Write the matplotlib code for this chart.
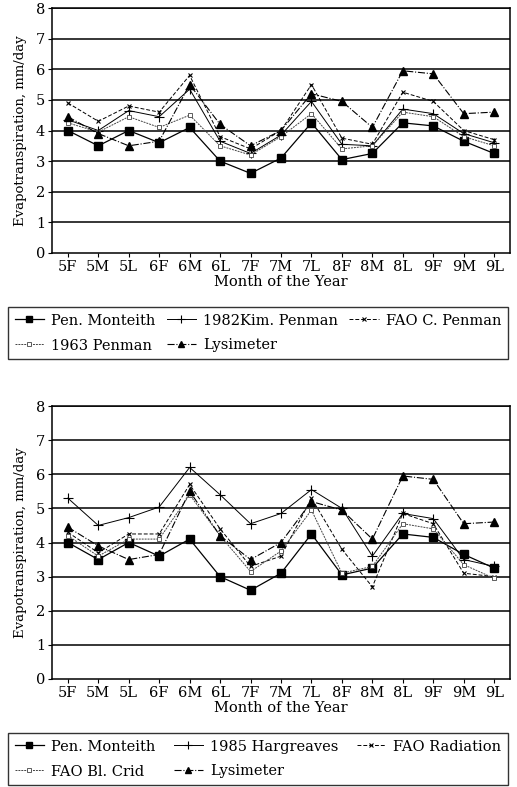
import matplotlib
matplotlib.use("Agg")
import matplotlib.pyplot as plt
from matplotlib.lines import Line2D

plt.rcParams["font.family"] = ["DejaVu Serif"]

months = ["5F", "5M", "5L", "6F", "6M", "6L", "7F", "7M", "7L",
          "8F", "8M", "8L", "9F", "9M", "9L"]

# top chart
pen_monteith = [4.0, 3.5, 4.0, 3.6, 4.1, 3.0, 2.6, 3.1, 4.25, 3.05, 3.25, 4.25, 4.15, 3.65, 3.25]
kim_penman_82 = [4.35, 4.0, 4.65, 4.45, 5.35, 3.65, 3.25, 3.85, 4.95, 3.55, 3.5, 4.7, 4.55, 3.9, 3.6]
fao_c_penman = [4.9, 4.3, 4.8, 4.6, 5.8, 3.8, 3.4, 4.0, 5.5, 3.75, 3.55, 5.25, 4.95, 4.0, 3.7]
penman_63 = [4.25, 3.95, 4.45, 4.1, 4.5, 3.5, 3.2, 3.8, 4.55, 3.4, 3.5, 4.6, 4.45, 3.8, 3.5]
lysimeter = [4.45, 3.9, 3.5, 3.65, 5.5, 4.2, 3.5, 4.0, 5.2, 4.95, 4.1, 5.95, 5.85, 4.55, 4.6]

# bottom chart
hargreaves_85 = [5.3, 4.5, 4.73, 5.04, 6.2, 5.4, 4.55, 4.85, 5.55, 5.0, 3.6, 4.85, 4.7, 3.5, 3.3]
fao_radiation = [4.3, 3.7, 4.25, 4.25, 5.7, 4.4, 3.3, 3.6, 5.3, 3.8, 2.7, 4.85, 4.55, 3.1, 3.0]
fao_blaney = [4.2, 3.6, 4.1, 4.1, 5.4, 4.2, 3.15, 3.75, 4.95, 3.1, 3.3, 4.55, 4.4, 3.35, 2.95]

W, H = 517, 787
fig = plt.figure(figsize=(W / 100, H / 100), dpi=100)

styles = {
    "pm": dict(color="black", lw=0.9, ls="-", marker="s", ms=5.5, mfc="black"),
    "plus": dict(color="black", lw=0.7, ls="-", marker="+", ms=7, mew=0.8),
    "star": dict(color="black", lw=0.7, ls=(0, (4, 2)), marker="x", ms=3, mew=0.8),
    "open": dict(color="#444444", lw=0.7, ls=(0, (2, 1)), marker="s", ms=3.5, mfc="white", mew=0.6),
    "lys": dict(color="black", lw=0.8, ls="-.", marker="^", ms=5.5, mfc="black"),
}


def make_axes(top, bottom):
    ax = fig.add_axes([52 / W, 1 - bottom / H, (510 - 52) / W, (bottom - top) / H])
    ax.set_xlim(-0.52, len(months) - 0.48)
    ax.set_ylim(0, 8)
    ax.set_yticks(range(9))
    ax.set_xticks(range(len(months)))
    ax.set_xticklabels(months)
    for y in range(1, 9):
        ax.axhline(y, color="black", lw=1.1, zorder=0)
    for s in ax.spines.values():
        s.set_linewidth(1.1)
    ax.tick_params(direction="out", length=3, labelsize=10.5, pad=2)
    ax.set_xlabel("Month of the Year", fontsize=10.5, labelpad=1)
    ax.set_ylabel("Evapotranspiration, mm/day", fontsize=9.5, labelpad=6)
    return ax


def make_legend(labels, keys, top):
    handles = [Line2D([], [], **styles[k]) for k in keys]
    # matplotlib fills legend columns first, so reorder to read by rows
    order = [0, 3, 1, 4, 2]
    fig.legend([handles[i] for i in order], [labels[i] for i in order],
               loc="upper left",
               bbox_to_anchor=(8 / W, 1 - top / H, 500 / W, 0),
               mode="expand", ncol=3, frameon=True, fancybox=False,
               edgecolor="black", fontsize=10.5, handlelength=2.0,
               handletextpad=0.5, columnspacing=0.8, borderaxespad=0,
               labelspacing=0.75, borderpad=0.45, markerscale=0.75)


ax1 = make_axes(8, 253)
x = range(len(months))
ax1.plot(x, pen_monteith, **styles["pm"])
ax1.plot(x, kim_penman_82, **styles["plus"])
ax1.plot(x, fao_c_penman, **styles["star"])
ax1.plot(x, penman_63, **styles["open"])
ax1.plot(x, lysimeter, **styles["lys"])
make_legend(["Pen. Monteith", "1982Kim. Penman", "FAO C. Penman", "1963 Penman", "Lysimeter"],
            ["pm", "plus", "star", "open", "lys"], 307)

ax2 = make_axes(406, 679)
ax2.plot(x, pen_monteith, **styles["pm"])
ax2.plot(x, hargreaves_85, **styles["plus"])
ax2.plot(x, fao_radiation, **styles["star"])
ax2.plot(x, fao_blaney, **styles["open"])
ax2.plot(x, lysimeter, **styles["lys"])
make_legend(["Pen. Monteith", "1985 Hargreaves", "FAO Radiation", "FAO Bl. Crid", "Lysimeter"],
            ["pm", "plus", "star", "open", "lys"], 733)

fig.savefig("out.png", dpi=100)
